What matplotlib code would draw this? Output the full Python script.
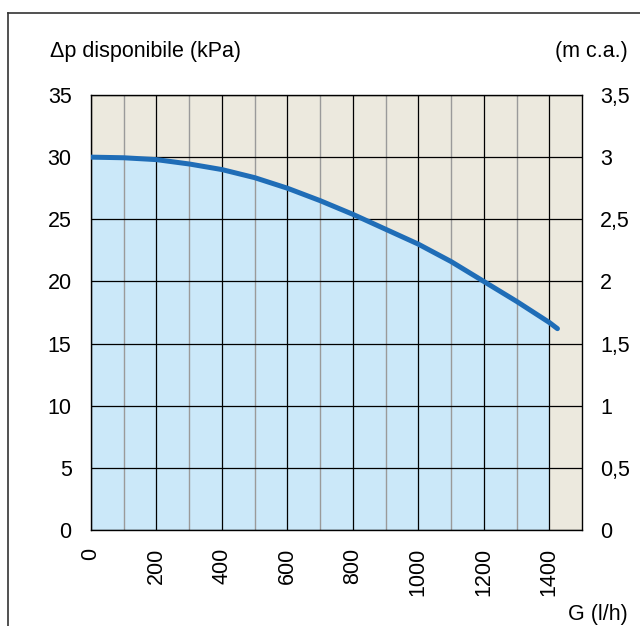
import matplotlib
matplotlib.use('Agg')
import matplotlib.pyplot as plt
from matplotlib.lines import Line2D
from matplotlib.ticker import MultipleLocator, FixedLocator

plt.rcParams['font.family'] = ['Liberation Sans Narrow', 'Liberation Sans', 'DejaVu Sans']

# portata (l/h) e prevalenza disponibile (kPa)
G = [0, 100, 200, 300, 400, 500, 600, 700, 800, 900, 1000, 1100, 1200, 1300, 1400, 1425]
dp = [30.0, 29.95, 29.8, 29.45, 29.0, 28.35, 27.5, 26.5, 25.4, 24.2, 23.0, 21.6, 20.0, 18.4, 16.7, 16.2]
G_max_fill = 1400

x_ticks = [0, 200, 400, 600, 800, 1000, 1200, 1400]
y_ticks = [0, 5, 10, 15, 20, 25, 30, 35]
y2_labels = ['0', '0,5', '1', '1,5', '2', '2,5', '3', '3,5']

bg = '#ECE9DE'
fill_col = '#CBE8F9'
line_col = '#1F6DB7'

fig = plt.figure(figsize=(6.4, 6.26), dpi=100)
ax = fig.add_axes([91/640, 1-530/626, 491/640, 435/626])
ax.set_facecolor(bg)
ax.set_xlim(0, 1500)
ax.set_ylim(0, 35)

fg = [g for g in G if g <= G_max_fill]
fd = dp[:len(fg)]
ax.fill_between(fg, 0, fd, color=fill_col, lw=0, zorder=1)

ax.xaxis.set_minor_locator(FixedLocator([100, 300, 500, 700, 900, 1100, 1300]))
ax.set_xticks(x_ticks)
ax.set_yticks(y_ticks)
ax.grid(which='minor', axis='x', color='#9a9a9a', lw=1.0, zorder=2)
ax.grid(which='major', axis='x', color='black', lw=0.9, zorder=2)
ax.grid(which='major', axis='y', color='black', lw=0.9, zorder=2)
ax.set_axisbelow(False)

ax.plot(G, dp, color=line_col, lw=3.6, solid_capstyle='round', zorder=4)

for s in ax.spines.values():
    s.set_linewidth(1.0)
    s.set_zorder(3)

ax.tick_params(which='both', length=0)
ax.tick_params(axis='y', labelsize=15.5, pad=14)
ax.tick_params(axis='x', labelsize=15.5, pad=13, labelrotation=90)
for lab in ax.get_xticklabels():
    lab.set_fontfamily(['Liberation Sans', 'DejaVu Sans'])

ax2 = ax.twinx()
ax2.set_ylim(0, 3.5)
ax2.set_yticks([v / 10 for v in y_ticks])
ax2.set_yticklabels(y2_labels)
ax2.tick_params(length=0, labelsize=15.5, pad=13)
for s in ax2.spines.values():
    s.set_visible(False)

fig.text(50/640, 1-57/626, '\u0394p disponibile (kPa)', fontsize=15.5, ha='left', va='baseline')
fig.text(628/640, 1-57/626, '(m c.a.)', fontsize=15.5, ha='right', va='baseline')
fig.text(628/640, 1-620/626, 'G (l/h)', fontsize=15.5, ha='right', va='baseline')

# cornice esterna
fig.add_artist(Line2D([8/640, 1.0], [1-13/626, 1-13/626], color='#333333', lw=1.2))
fig.add_artist(Line2D([8/640, 8/640], [0.0, 1-13/626], color='#333333', lw=1.2))

fig.savefig('out.png', dpi=100)
